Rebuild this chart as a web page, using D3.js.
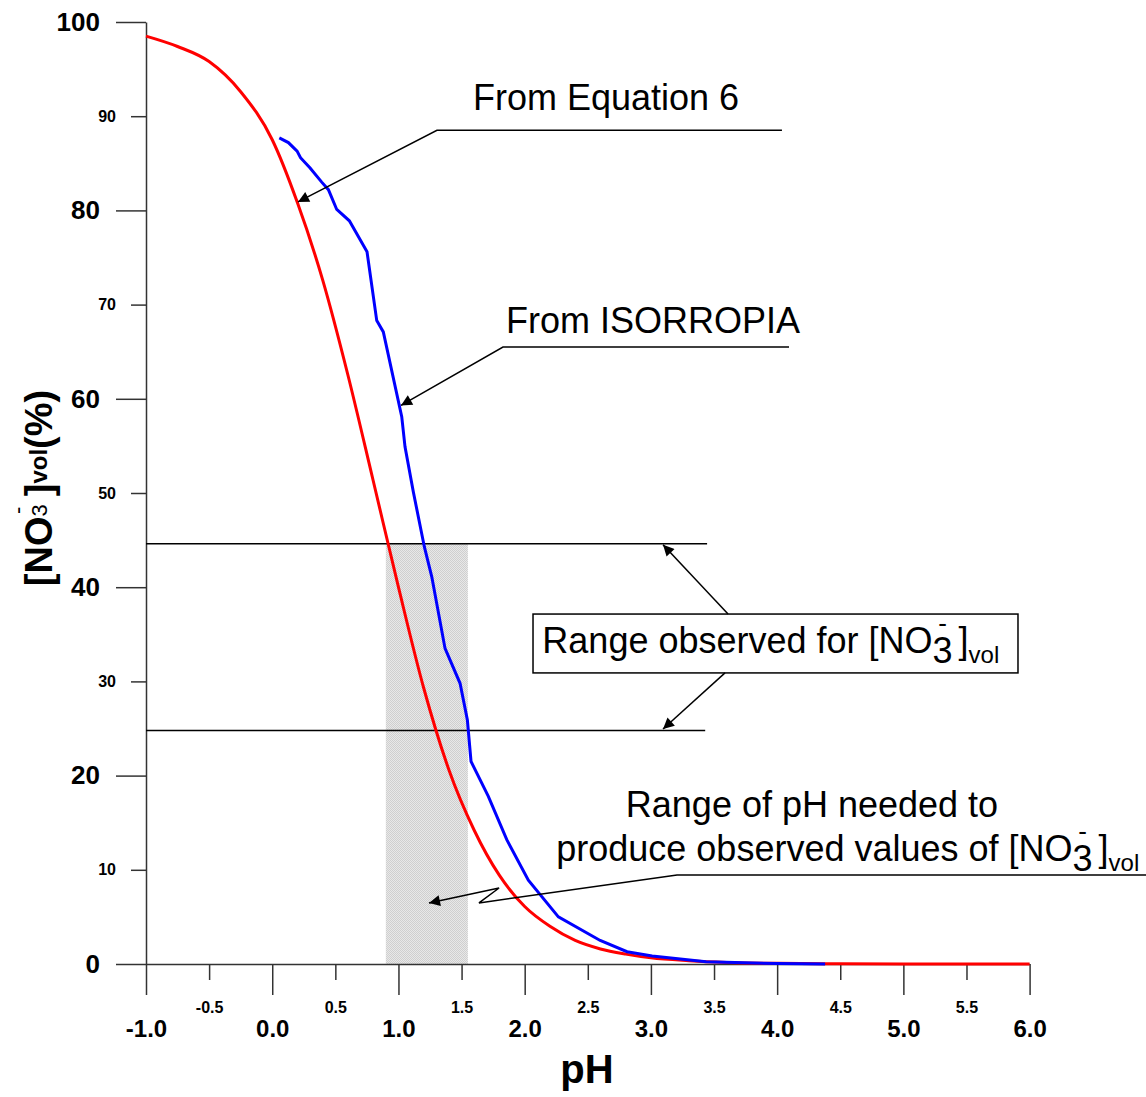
<!DOCTYPE html>
<html>
<head>
<meta charset="utf-8">
<script src="https://cdn.jsdelivr.net/npm/d3@7"></script>
<style>
  body { margin: 0; background: #fff; }
  svg { display: block; font-family: "Liberation Sans", Arial, sans-serif; }
  .axis path, .axis line { stroke: #333; stroke-width: 1.5; }
  .axis text { fill: #000; font-weight: bold; font-family: "Liberation Sans", Arial, sans-serif; }
  .note { font-size: 36px; fill: #000; }
  .lead { stroke: #000; stroke-width: 1.5; fill: none; }
</style>
</head>
<body>
<div id="main"></div>
<script>
const W = 1146, H = 1097;

// red curve, "From Equation 6"
const phEq6  = [-1.0, -0.75, -0.5, -0.25, 0.0, 0.2, 0.4, 0.6, 0.8, 1.0, 1.2, 1.4, 1.6, 1.8, 2.0, 2.2, 2.4, 2.6, 2.8, 3.0, 3.3, 3.6, 4.0, 4.5, 5.0, 6.0];
const pctEq6 = [98.5, 97.4, 95.8, 92.6, 87.5, 80.8, 72.6, 62.5, 51.3, 40.0, 29.3, 20.6, 14.2, 9.4, 6.1, 4.0, 2.5, 1.6, 1.05, 0.65, 0.35, 0.17, 0.07, 0.03, 0.01, 0.0];

// blue curve, "From ISORROPIA"
const phIso  = [0.056, 0.128, 0.197, 0.224, 0.300, 0.392, 0.445, 0.511, 0.611, 0.751, 0.828, 0.880, 1.026, 1.052, 1.118, 1.205, 1.264, 1.369, 1.488, 1.546, 1.575, 1.712, 1.858, 2.029, 2.267, 2.598, 2.811, 3.010, 3.437, 4.0, 4.38];
const pctIso = [87.7, 87.2, 86.3, 85.6, 84.5, 83.0, 82.2, 80.1, 78.9, 75.6, 68.3, 67.1, 58.1, 54.9, 50.1, 44.3, 41.1, 33.5, 29.8, 25.9, 21.5, 17.8, 13.2, 8.9, 5.0, 2.5, 1.3, 0.85, 0.25, 0.05, 0.0];

// observed range of [NO3-]vol and the pH range it needs
const obsRange = [24.8, 44.6];
const phRange = [0.9, 1.55];

const xMajor = [-1, 0, 1, 2, 3, 4, 5, 6];
const xMinor = [-0.5, 0.5, 1.5, 2.5, 3.5, 4.5, 5.5];
const yMajor = [0, 20, 40, 60, 80, 100];
const yMinor = [10, 30, 50, 70, 90];

const x = d3.scaleLinear().domain([-1, 6]).range([146, 1029.6]);
const y = d3.scaleLinear().domain([0, 100]).range([964, 22]);

const svg = d3.select("#main").append("svg")
    .attr("width", W).attr("height", H);
svg.append("rect").attr("width", W).attr("height", H).attr("fill", "#fff");

const defs = svg.append("defs");
const pat = defs.append("pattern").attr("id", "stip")
    .attr("width", 2).attr("height", 2).attr("patternUnits", "userSpaceOnUse");
pat.append("rect").attr("width", 2).attr("height", 2).attr("fill", "#e8e8e8");
pat.append("rect").attr("width", 1).attr("height", 1).attr("fill", "#cfcfcf");
pat.append("rect").attr("x", 1).attr("y", 1).attr("width", 1).attr("height", 1).attr("fill", "#cfcfcf");

defs.append("marker").attr("id", "arr")
    .attr("viewBox", "0 0 10 10").attr("refX", 10).attr("refY", 5)
    .attr("markerUnits", "userSpaceOnUse")
    .attr("markerWidth", 16).attr("markerHeight", 11)
    .attr("orient", "auto")
  .append("path").attr("d", "M0,0 L10,5 L0,10 z").attr("fill", "#000");

// shaded pH band
svg.append("rect")
    .attr("x", x(phRange[0])).attr("width", x(phRange[1]) - x(phRange[0]))
    .attr("y", y(obsRange[1])).attr("height", y(0) - y(obsRange[1]))
    .attr("fill", "url(#stip)");

// axes
const fmt1 = d => d.toFixed(1);
const xa1 = svg.append("g").attr("class", "axis").attr("transform", `translate(0,${y(0)})`)
    .call(d3.axisBottom(x).tickValues(xMajor).tickFormat(fmt1).tickSize(31).tickSizeOuter(0).tickPadding(25));
xa1.selectAll("text").style("font-size", "24px");
const xa2 = svg.append("g").attr("class", "axis").attr("transform", `translate(0,${y(0)})`)
    .call(d3.axisBottom(x).tickValues(xMinor).tickFormat(fmt1).tickSize(16).tickPadding(22));
xa2.select(".domain").remove();
xa2.selectAll("text").style("font-size", "16px");

const ya1 = svg.append("g").attr("class", "axis").attr("transform", `translate(${x(-1)},0)`)
    .call(d3.axisLeft(y).tickValues(yMajor).tickSize(30).tickSizeOuter(0).tickPadding(16));
ya1.selectAll("text").style("font-size", "26px");
const ya2 = svg.append("g").attr("class", "axis").attr("transform", `translate(${x(-1)},0)`)
    .call(d3.axisLeft(y).tickValues(yMinor).tickSize(15).tickPadding(15));
ya2.select(".domain").remove();
ya2.selectAll("text").style("font-size", "16px");

// range lines
svg.selectAll("line.obs").data([{v: obsRange[1], end: 3.445}, {v: obsRange[0], end: 3.43}])
  .enter().append("line").attr("class", "lead")
    .attr("x1", x(-1)).attr("x2", d => x(d.end))
    .attr("y1", d => y(d.v)).attr("y2", d => y(d.v));

// curves
const line = d3.line().x(d => x(d[0])).y(d => y(d[1]));
svg.append("path").datum(d3.zip(phEq6, pctEq6))
    .attr("d", line.curve(d3.curveMonotoneX))
    .attr("fill", "none").attr("stroke", "#ff0000").attr("stroke-width", 3);
svg.append("path").datum(d3.zip(phIso, pctIso))
    .attr("d", d3.line().x(d => x(d[0])).y(d => y(d[1])))
    .attr("fill", "none").attr("stroke", "#0000ff").attr("stroke-width", 3);

// leader lines (coordinates in pH / %)
function leader(pts, arrow) {
  const p = svg.append("path").attr("class", "lead")
      .attr("d", d3.line().x(d => x(d[0])).y(d => y(d[1]))(pts));
  if (arrow) p.attr("marker-end", "url(#arr)");
}
leader([[4.038, 88.5], [1.305, 88.5], [0.204, 80.9]], true);
leader([[4.094, 65.5], [1.828, 65.5], [1.02, 59.3]], true);
leader([[3.611, 37.15], [3.096, 44.5]], true);
leader([[3.587, 30.9], [3.096, 24.95]], true);
leader([[6.95, 9.45], [3.207, 9.45], [1.638, 6.48], [1.797, 8.07], [1.242, 6.48]], true);

// [NO3-]vol helper
function no3(t, fs) {
  t.append("tspan").text("[NO");
  t.append("tspan").text("3").attr("dy", 10);
  t.append("tspan").text("-").style("font-size", "26px").attr("dx", -0.556 * fs + (0.556 * fs - 8.7) / 2).attr("dy", -31);
  t.append("tspan").text(" ]").attr("dx", (0.556 * fs - 8.7) / 2 - 4).attr("dy", 21);
  t.append("tspan").text("vol").style("font-size", "24px").attr("dy", 10);
}

svg.append("text").attr("class", "note").attr("x", x(1.59)).attr("y", y(90.7)).text("From Equation 6");
svg.append("text").attr("class", "note").attr("x", x(1.852)).attr("y", y(67.0)).text("From ISORROPIA");

svg.append("rect").attr("x", x(2.066)).attr("y", y(37.15))
    .attr("width", x(5.908) - x(2.066)).attr("height", y(30.9) - y(37.15))
    .attr("fill", "none").attr("stroke", "#000").attr("stroke-width", 1.5);
const tBox = svg.append("text").attr("class", "note").attr("x", x(2.14)).attr("y", y(33.0));
tBox.append("tspan").text("Range observed for ");
no3(tBox, 36);

svg.append("text").attr("class", "note").attr("text-anchor", "middle")
    .attr("x", x(4.276)).attr("y", y(15.6)).text("Range of pH needed to");
const tLow = svg.append("text").attr("class", "note").attr("x", x(2.25)).attr("y", y(10.9));
tLow.append("tspan").text("produce observed values of ");
no3(tLow, 36);

// axis titles
svg.append("text").attr("x", 587).attr("y", 1083)
    .attr("text-anchor", "middle").style("font-size", "40px").style("font-weight", "bold")
    .text("pH");

const yt = svg.append("text").attr("transform", "translate(52,488) rotate(-90)")
    .attr("text-anchor", "middle").style("font-size", "38px").style("font-weight", "bold");
yt.append("tspan").text("[NO");
yt.append("tspan").text("3").style("font-size", "22px").style("font-weight", "normal").attr("dy", -5);
yt.append("tspan").text("-").style("font-size", "22px").style("font-weight", "normal").attr("dx", -9.8).attr("dy", -22);
yt.append("tspan").text(" ]").attr("dx", 0).attr("dy", 27);
yt.append("tspan").text("vol").style("font-size", "24px").attr("dy", -5);
yt.append("tspan").text("(%)").attr("dy", 5);
</script>
</body>
</html>
